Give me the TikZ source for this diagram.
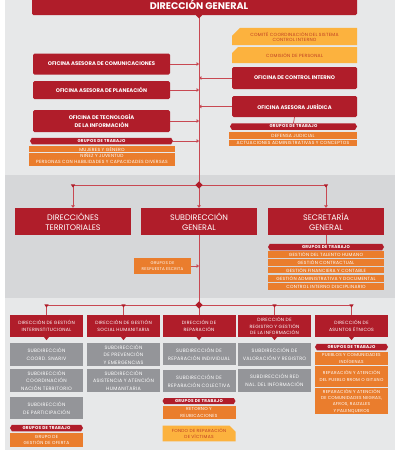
\documentclass[tikz,border=0pt]{standalone}
\usepackage{fontspec}
\setmainfont{Poppins}
\newfontfamily\smf[LetterSpace=6]{Poppins}
\usetikzlibrary{arrows.meta,shapes.misc,shapes.symbols,calc}
\definecolor{ured}{RGB}{176,29,42}
\definecolor{lred}{RGB}{200,72,82}
\definecolor{dorange}{RGB}{234,125,45}
\definecolor{lorange}{RGB}{252,178,62}
\definecolor{otext}{RGB}{190,60,35}
\definecolor{gbox}{RGB}{148,149,153}
\definecolor{bglight}{RGB}{231,232,233}
\definecolor{bgdark}{RGB}{214,215,217}
\newcommand\fsz[2]{\fontsize{#1}{#2}\selectfont}
\newcommand\dtri[1]{\fill[ured] ($(#1)+(-2.2,-0.6)$) -- ($(#1)+(2.2,-0.6)$) -- ($(#1)+(0,2.6)$) -- cycle;}
\newcommand\mynotch[1]{\fill[ured] ($(#1.south)+(-2.6,-0.3)$) -- ($(#1.south)+(2.6,-0.3)$) -- ($(#1.south)+(0,3)$) -- cycle;}
\newcommand\mydiam[1]{\fill[ured] ($(#1)+(-3.6,0)$) -- ($(#1)+(0,-3.6)$) -- ($(#1)+(3.6,0)$) -- ($(#1)+(0,3.6)$) -- cycle;}
\tikzset{
  sz/.style 2 args={minimum width=#1pt, minimum height=#2pt},
  box/.style={rectangle, inner sep=0pt, align=center, text=white},
  redbox/.style={box, fill=ured, rounded corners=1.5pt},
  bigred/.style={box, fill=ured, font=\fsz{8}{9.8}},
  offbox/.style={redbox, font=\bfseries\fsz{5.3}{7.3}},
  dirbox/.style={box, fill=ured, font=\smf\fsz{4.6}{6.5}},
  grybox/.style={box, fill=gbox, font=\smf\fsz{4.8}{7.6}},
  obox/.style={box, fill=dorange, font=\smf\fsz{4.5}{6.3}},
  lobox/.style={chamfered rectangle, chamfered rectangle xsep=4pt, chamfered rectangle ysep=4pt, inner sep=0pt, fill=lorange, text=otext, align=center, font=\smf\fsz{4.5}{5}},
  pill/.style={signal, signal to=west and east, signal pointer angle=120, fill=ured, text=white, inner sep=0pt, font=\smf\bfseries\fsz{4.2}{4}},
  conn/.style={draw=lred, line width=0.7pt},
  >={Triangle[length=2.4pt,width=3.6pt]}
}
\begin{document}
\begin{tikzpicture}[x=1pt,y=-1pt]
\useasboundingbox (0,0) rectangle (400,450);
\fill[white] (0,0) rectangle (400,450);
\fill[bglight] (5,0) rectangle (395,175);
\fill[bgdark] (5,175) rectangle (395,298);
\fill[bglight] (5,298) rectangle (395,450);

% top
\node[redbox, sz={325}{20}, font=\bfseries\fsz{9.6}{10}] (dg) at (194.5,5) {\hspace*{9pt}DIRECCIÓN GENERAL};
\coordinate (top) at (199,15);
\coordinate (j1) at (199,185);
\coordinate (j2) at (199,305);
\draw[conn] (top) -- (j1);
\fill[ured] (195.5,14.7) -- (202.5,14.7) -- (199,18.5) -- cycle;

\node[lobox, sz={125}{17}, chamfered rectangle corners=north west] (cci) at (294.5,36.5) {COMITÉ COORDINACIÓN DEL SISTEMA\\CONTROL INTERNO};
\node[lobox, sz={125}{16}, chamfered rectangle corners=north west] (cp) at (294.5,55) {COMISIÓN DE PERSONAL};

\node[offbox, sz={137}{21}] (com) at (101.5,64) {OFICINA ASESORA DE COMUNICACIONES};
\node[offbox, sz={137}{18}] (pla) at (101.5,90) {OFICINA ASESORA DE PLANEACIÓN};
\node[offbox, sz={137}{22}] (oti) at (101.5,121) {OFICINA DE TECNOLOGÍA\\DE LA INFORMACIÓN};
\node[pill, sz={143}{6.5}] (gtl) at (101.5,141) {GRUPOS DE TRABAJO};
\node[obox, sz={146}{6}] (o1) at (102,149) {MUJERES Y GÉNERO};
\node[obox, sz={146}{6}] (o2) at (102,155.6) {NIÑEZ Y JUVENTUD};
\node[obox, sz={146}{6.4}] (o3) at (102,162.4) {PERSONAS CON HABILIDADES Y CAPACIDADES DIVERSAS};

\node[offbox, sz={125}{22}] (ci) at (294.5,78) {OFICINA DE CONTROL INTERNO};
\node[offbox, sz={125}{21}] (oaj) at (294.5,106.5) {OFICINA ASESORA JURÍDICA};
\node[pill, sz={127}{6.5}] (gtr) at (293.5,126.5) {GRUPOS DE TRABAJO};
\node[obox, sz={128}{6.5}] (dj) at (293,135.5) {DEFENSA JUDICIAL};
\node[obox, sz={128}{6.5}] (aac) at (293,143) {ACTUACIONES ADMINISTRATIVAS Y CONCEPTOS};

\draw[conn,->] (com.east) -- (com.east -| top);
\draw[conn,->] (pla.east) -- (pla.east -| top);
\draw[conn,->] (oti.east) -- (oti.east -| top);
\draw[conn,->] (gtl.east) -- (gtl.east -| top);
\draw[conn,->] (ci.west) -- (ci.west -| top);
\draw[conn,->] (oaj.west) -- (oaj.west -| top);
\draw[conn] (oaj.south) -- (gtr.north);

% middle band
\node[bigred, sz={116}{27}] (dt) at (73,221.5) {DIRECCIÓNES\\TERRITORIALES};
\node[bigred, sz={116}{27}] (sg) at (199,221.5) {SUBDIRECCIÓN\\GENERAL};
\node[bigred, sz={116}{27}] (sec) at (326,221.5) {SECRETARÍA\\GENERAL};
\coordinate (c1) at (dt.north |- j1);
\coordinate (c2) at (sec.north |- j1);
\draw[conn,->] (j1) -| (dt.north);
\draw[conn,->] (j1) -| (sec.north);
\draw[conn,->] (j1) -- (sg.north);
\dtri{c1}\dtri{c2}
\mydiam{j1}
\draw[conn] (sg.south) -- (j2);

\node[obox, sz={57}{16}, font=\smf\fsz{4}{5.4}] (gre) at (162.5,266) {GRUPOS DE\\RESPUESTA ESCRITA};
\draw[conn,->] (gre.east) -- (gre.east -| top);

\node[pill, sz={116}{6.5}] (secp) at (326,247) {GRUPOS DE TRABAJO};
\draw[conn] (sec.south) -- (secp.north);
\node[obox, sz={116}{6.4}] (s1) at (326,254.6) {GESTIÓN DEL TALENTO HUMANO};
\node[obox, sz={116}{6.4}] (s2) at (326,262.4) {GESTIÓN CONTRACTUAL};
\node[obox, sz={116}{6.4}] (s3) at (326,270.2) {GESTIÓN FINANCIERA Y CONTABLE};
\node[obox, sz={116}{6.4}] (s4) at (326,278.4) {GESTIÓN ADMINISTRATIVA Y DOCUMENTAL};
\node[obox, sz={116}{6.4}] (s5) at (326,286.6) {CONTROL INTERNO DISCIPLINARIO};

% bottom
\node[dirbox, sz={73}{22}] (d1) at (46.5,326) {DIRECCIÓN DE GESTIÓN\\INTERINSTITUCIONAL};
\node[dirbox, sz={73}{22}] (d2) at (123.5,326) {DIRECCIÓN DE GESTIÓN\\SOCIAL HUMANITARIA};
\node[dirbox, sz={73}{22}] (d3) at (199,326) {DIRECCIÓN DE\\REPARACIÓN};
\node[dirbox, sz={73}{22}] (d4) at (274.5,326) {DIRECCIÓN DE\\REGISTRO Y GESTIÓN\\DE LA INFORMACIÓN};
\node[dirbox, sz={73}{22}] (d5) at (351.5,326) {DIRECCIÓN DE\\ASUNTOS ÉTNICOS};
\coordinate (b1) at (d1.north |- j2);
\coordinate (b2) at (d2.north |- j2);
\coordinate (b4) at (d4.north |- j2);
\coordinate (b5) at (d5.north |- j2);
\draw[conn] (j2) -| (d1.north);
\draw[conn] (j2) -| (d2.north);
\draw[conn] (j2) -- (d3.north);
\draw[conn] (j2) -| (d4.north);
\draw[conn] (j2) -| (d5.north);
\dtri{b1}\dtri{b2}\dtri{b4}\dtri{b5}
\mydiam{j2}
\mynotch{d1}\mynotch{d2}\mynotch{d3}\mynotch{d4}\mynotch{d5}

\node[grybox, sz={73}{23}] (g11) at (46.5,354.5) {SUBDIRECCIÓN\\COORD. SNARIV};
\node[grybox, sz={73}{23}] (g12) at (46.5,380.5) {SUBDIRECCIÓN\\COORDINACIÓN\\NACIÓN TERRITORIO};
\node[grybox, sz={73}{22}] (g13) at (46.5,408) {SUBDIRECCIÓN\\DE PARTICIPACIÓN};
\node[pill, sz={73}{6.5}] (p1) at (46.5,428) {GRUPOS DE TRABAJO};
\node[obox, sz={73}{14}, font=\smf\fsz{4.4}{6.4}] (o11) at (46.5,440) {GRUPO DE\\GESTIÓN DE OFERTA};

\node[grybox, sz={73}{23}] (g21) at (123.5,354.5) {SUBDIRECCIÓN\\DE PREVENCIÓN\\Y EMERGENCIAS};
\node[grybox, sz={73}{23}] (g22) at (123.5,380.5) {SUBDIRECCIÓN\\ASISTENCIA Y ATENCIÓN\\HUMANITARIA};

\node[grybox, sz={73}{22}] (g31) at (199,354) {SUBDIRECCIÓN DE\\REPARACIÓN INDIVIDUAL};
\node[grybox, sz={73}{22}] (g32) at (199,381) {SUBDIRECCIÓN DE\\REPARACIÓN COLECTIVA};
\node[pill, sz={73}{6}] (p3) at (199,401) {GRUPOS DE TRABAJO};
\node[obox, sz={73}{13.5}, font=\smf\fsz{4.4}{6.6}] (o31) at (199,412.5) {RETORNO Y\\REUBICACIONES};
\node[lobox, sz={73}{15}, chamfered rectangle corners=north east, chamfered rectangle xsep=3pt, chamfered rectangle ysep=3pt, font=\smf\fsz{4.4}{5.6}] (o32) at (199,433.5) {FONDO DE REPARACIÓN\\DE VÍCTIMAS};

\node[grybox, sz={73}{23}] (g41) at (274.5,354.5) {SUBDIRECCIÓN DE\\VALORACIÓN Y REGISTRO};
\node[grybox, sz={73}{23}] (g42) at (274.5,380.5) {SUBDIRECCIÓN RED\\NAL. DEL INFORMACIÓN};

\node[pill, sz={73}{6.5}] (p5) at (351.5,347) {GRUPOS DE TRABAJO};
\node[obox, sz={73}{13}, font=\smf\fsz{4.3}{6.3}] (o51) at (351.5,358.5) {PUEBLOS Y COMUNIDADES\\INDÍGENAS};
\node[obox, sz={73}{20.5}, font=\smf\fsz{4.3}{7}] (o52) at (351.5,376.5) {REPARACIÓN Y ATENCIÓN\\DEL PUEBLO RROM O GITANO};
\node[obox, sz={73}{26}, font=\smf\fsz{4.3}{6.2}] (o53) at (351.5,401) {REPARACIÓN Y ATENCIÓN\\DE COMUNIDADES NEGRAS,\\AFROS, RAIZALES\\Y PALENQUEROS};
\end{tikzpicture}
\end{document}
